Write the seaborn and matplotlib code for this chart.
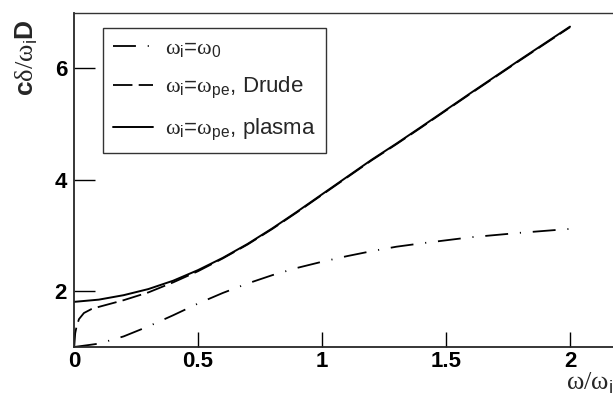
import numpy as np
import pandas as pd
import matplotlib
matplotlib.use('Agg')
import matplotlib.pyplot as plt
import seaborn as sns

# frequency grid (omega / omega_i)
x_vals = [0.0, 0.1, 0.2, 0.3, 0.4, 0.5, 0.6, 0.7, 0.8, 0.9, 1.0, 1.1, 1.2, 1.3, 1.4, 1.6, 1.8, 2.0]
# omega_i = omega_0
y_w0 = [1.0, 1.06, 1.19, 1.37, 1.57, 1.78, 1.97, 2.14, 2.29, 2.42, 2.53, 2.63, 2.72, 2.80, 2.86, 2.97, 3.05, 3.12]
# omega_i = omega_pe, plasma
y_plasma = [1.81, 1.85, 1.93, 2.04, 2.19, 2.38, 2.60, 2.85, 3.13, 3.43, 3.74, 4.05, 4.36, 4.65, 4.95, 5.56, 6.16, 6.75]
# omega_i = omega_pe, Drude (steep start near zero)
x_drude = [0.0, 0.005, 0.01, 0.02, 0.04, 0.07, 0.1, 0.15, 0.2, 0.3, 0.4, 0.5, 0.6, 0.7, 0.8,
           0.9, 1.0, 1.1, 1.2, 1.3, 1.4, 1.6, 1.8, 2.0]
y_drude = [1.0, 1.25, 1.36, 1.50, 1.61, 1.68, 1.72, 1.78, 1.84, 1.98, 2.16, 2.36, 2.59, 2.84, 3.12,
           3.42, 3.73, 4.04, 4.35, 4.64, 4.94, 5.55, 6.15, 6.74]

labels = [r'$\mathrm{\omega}_\mathsf{i}$=$\mathrm{\omega}_\mathsf{0}$',
          r'$\mathrm{\omega}_\mathsf{i}$=$\mathrm{\omega}_\mathsf{pe}$, Drude',
          r'$\mathrm{\omega}_\mathsf{i}$=$\mathrm{\omega}_\mathsf{pe}$, plasma']

sns.set_style('ticks')
plt.rcParams['font.family'] = ['Liberation Sans', 'DejaVu Sans']
plt.rcParams['mathtext.fontset'] = 'custom'
plt.rcParams['mathtext.rm'] = 'Liberation Serif'
plt.rcParams['mathtext.sf'] = 'Liberation Sans'
plt.rcParams['mathtext.bf'] = 'Liberation Sans:bold'
plt.rcParams['lines.scale_dashes'] = False

fig = plt.figure(figsize=(6.13, 3.96), dpi=100)
ax = fig.add_axes([74 / 613, 49 / 396, 545.6 / 613, 334.3 / 396])

df_w0 = pd.DataFrame({'x': x_vals, 'y': y_w0})
df_dr = pd.DataFrame({'x': x_drude, 'y': y_drude})
df_pl = pd.DataFrame({'x': x_vals, 'y': y_plasma})

sns.lineplot(data=df_w0, x='x', y='y', ax=ax, color='black', lw=1.3, label=labels[0])
sns.lineplot(data=df_dr, x='x', y='y', ax=ax, color='black', lw=1.3, label=labels[1])
sns.lineplot(data=df_pl, x='x', y='y', ax=ax, color='black', lw=1.4, label=labels[2])
ax.lines[0].set_linestyle((0, (16.5, 8.5, 0.8, 8.5)))
ax.lines[1].set_linestyle((0, (14, 4.5)))

ax.set_xlim(0, 2.2)
ax.set_ylim(1, 7)
ax.set_xticks([0, 0.5, 1, 1.5, 2])
ax.set_xticklabels(['0', '0.5', '1', '1.5', '2'])
ax.set_yticks([2, 4, 6])
ax.tick_params(direction='in', labelsize=16, width=1, colors='black')
ax.tick_params(axis='x', length=11, pad=3)
ax.tick_params(axis='y', length=15, pad=5)
for lab in ax.get_xticklabels() + ax.get_yticklabels():
    lab.set_fontweight('bold')

ax.spines['right'].set_visible(False)
ax.spines['left'].set_linewidth(1.3)
ax.spines['bottom'].set_linewidth(1.3)
ax.spines['top'].set_linewidth(1.0)
ax.spines['top'].set_color('#333333')

ax.set_xlabel('')
ax.set_ylabel('')
fig.text(566 / 613, 1 - 383 / 396, r'$\mathrm{\omega/\omega}_\mathsf{i}$', fontsize=19,
         ha='left', va='center')
fig.text(27 / 613, 1 - 58 / 396, r'$\mathbf{c}\mathrm{\delta/\omega}_\mathsf{i}\mathbf{D}$',
         fontsize=19, rotation=90, ha='center', va='center')

leg = ax.legend(loc='upper left', bbox_to_anchor=(0.053, 0.954), fontsize=16,
                frameon=True, fancybox=False, edgecolor='black', handlelength=1.8,
                handletextpad=0.55, labelspacing=0.7, borderpad=0.45,
                borderaxespad=0)
leg.get_frame().set_linewidth(1.0)

plt.savefig('out.png', dpi=100)
